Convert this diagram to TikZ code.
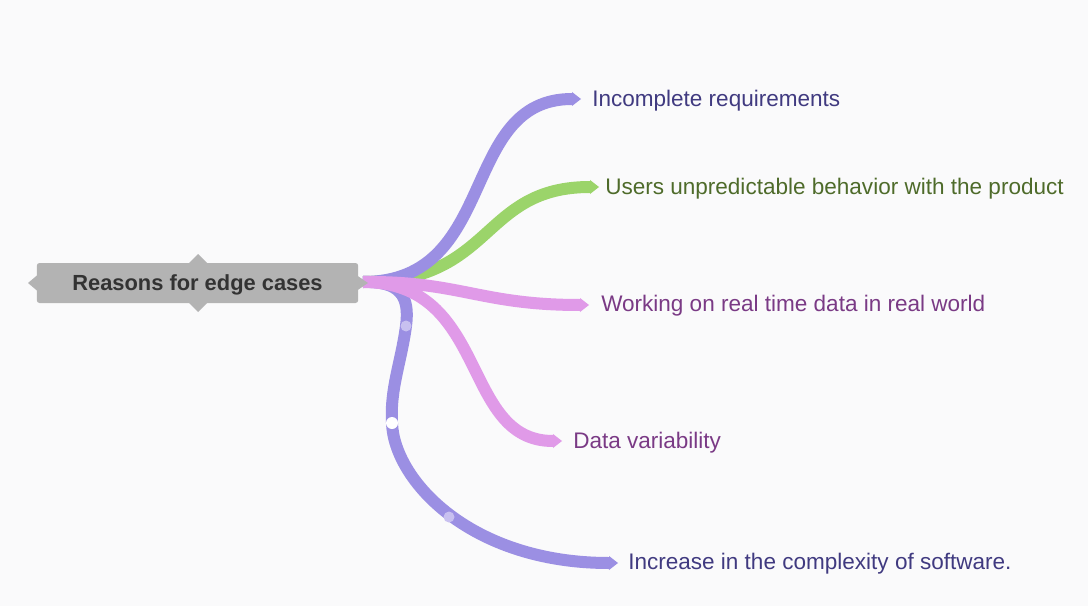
\documentclass[tikz,border=0pt]{standalone}
\usepackage{fontspec}
\setmainfont{Liberation Sans}
\usetikzlibrary{calc}
\definecolor{bg}{RGB}{250,250,251}
\definecolor{bpurple}{RGB}{155,143,227}
\definecolor{bgreen}{RGB}{155,212,106}
\definecolor{bpink}{RGB}{224,154,232}
\definecolor{tindigo}{RGB}{64,58,128}
\definecolor{tgreen}{RGB}{78,107,42}
\definecolor{tpurple}{RGB}{122,58,133}
\definecolor{rootgray}{RGB}{179,179,179}
\definecolor{roottext}{RGB}{51,51,51}
\definecolor{dotlight}{RGB}{200,192,240}
\tikzset{
  branch/.style={line width=9pt, line cap=butt},
  lbl/.style={anchor=west, inner sep=0pt, font=\fontsize{16.9}{20}\selectfont},
  rootbox/.style={fill=rootgray, rounded corners=2pt, minimum width=241pt, minimum height=30pt, inner sep=0pt},
}
\begin{document}
\begin{tikzpicture}[x=0.75pt,y=-0.75pt]
\fill[bg] (0,0) rectangle (1088,606);
\useasboundingbox (0,0) rectangle (1088,606);
% root node
\node[rootbox] (root) at (197.5,283) {};
\node[font=\fontsize{16.4}{20}\selectfont\bfseries, text=roottext, inner sep=0pt] (roottxt) at (197.5,284.5) {Reasons for edge cases};
\fill[rootgray] (37.5,275) -- (28,283) -- (37.5,291) -- cycle;
\fill[rootgray] (188,264) -- (198,254) -- (208,264) -- cycle;
\fill[rootgray] (188,302) -- (198,312) -- (208,302) -- cycle;
\coordinate (r) at (363,282);
% labels
\node[lbl, text=tindigo] (l1) at (592,101) {Incomplete requirements};
\node[lbl, text=tgreen] (l2) at (605,189) {Users unpredictable behavior with the product};
\node[lbl, text=tpurple] (l3) at (601,306) {Working on real time data in real world};
\node[lbl, text=tpurple] (l4) at (573,443) {Data variability};
\node[lbl, text=tindigo] (l5) at (628,564) {Increase in the complexity of software.};
% branch ends
\coordinate (e1) at (572,99);
\coordinate (e2) at (590,187);
\coordinate (e3) at (580,305);
\coordinate (e4) at (553,441);
\coordinate (e5) at (609,563);
% green
\draw[branch, bgreen] (r) .. controls (495,282) and (480,187) .. (e2);
\fill[bgreen] ($(e2)+(0,-7)$) -- ($(e2)+(9,0)$) -- ($(e2)+(0,7)$) -- cycle;
% purple top
\draw[branch, bpurple] (r) .. controls (500,282) and (458,99) .. (e1);
\fill[bpurple] ($(e1)+(0,-7)$) -- ($(e1)+(9,0)$) -- ($(e1)+(0,7)$) -- cycle;
% purple bottom
\coordinate (m1) at (406,326);
\coordinate (m2) at (392,423);
\coordinate (m3) at (449,517);
\draw[branch, bpurple] (r) .. controls (400,281) and (410,296) .. (m1)
  .. controls (401,363) and (390,388) .. (m2)
  .. controls (394,480) and (470,563) .. (e5);
\fill[bpurple] ($(e5)+(0,-7)$) -- ($(e5)+(9,0)$) -- ($(e5)+(0,7)$) -- cycle;
% pink
\draw[branch, bpink] (r) .. controls (490,282) and (460,441) .. (e4);
\fill[bpink] ($(e4)+(0,-7)$) -- ($(e4)+(9,0)$) -- ($(e4)+(0,7)$) -- cycle;
\draw[branch, bpink] (r) .. controls (460,281) and (480,305) .. (e3);
\fill[bpink] ($(e3)+(0,-7)$) -- ($(e3)+(9,0)$) -- ($(e3)+(0,7)$) -- cycle;
% right chevron of root
\fill[rootgray] (357,275.5) -- (368,283) -- (357,290.5) -- cycle;
% dots
\fill[dotlight] (m1) circle (5.5);
\fill[white] (m2) circle (6);
\fill[dotlight] (m3) circle (5.5);
\end{tikzpicture}
\end{document}
